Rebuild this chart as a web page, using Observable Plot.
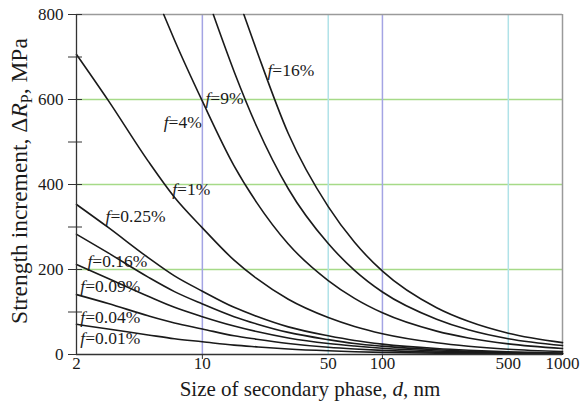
<!DOCTYPE html>
<html>
<head>
<meta charset="utf-8">
<script src="https://cdn.jsdelivr.net/npm/d3@7"></script>
<script src="https://cdn.jsdelivr.net/npm/@observablehq/plot@0.6"></script>
<style>
  html, body { margin: 0; padding: 0; background: #fff; }
  #chart svg { display: block; }
</style>
</head>
<body>
<div id="chart"></div>
<script>
// ---- data ----
const fractionLabels = ["0.01", "0.04", "0.09", "0.16", "0.25", "1", "4", "9", "16"];

const dGrid = [2, 3, 5, 7, 10, 15, 20, 30, 50, 70, 100, 200, 300, 500, 1000];
const f001 = [71, 60, 46, 37, 30, 22, 18, 13, 8.7, 6.6, 4.9, 2.8, 2, 1.3, 0.7];
const f004 = [141, 120, 91, 74, 60, 44, 36, 26, 17, 13, 9.8, 5.5, 3.9, 2.5, 1.4];
const f009 = [212, 179, 137, 111, 89, 67, 54, 39, 26, 20, 14.7, 8.3, 5.9, 3.8, 2.1];
const f016 = [283, 239, 182, 148, 119, 89, 72, 52, 35, 26, 19.6, 11, 7.8, 5, 2.8];
const f025 = [353, 299, 228, 185, 149, 111, 90, 65, 44, 33, 24.5, 14, 10, 6.3, 3.5];
const f1   = [706, 598, 455, 370, 298, 222, 179, 130, 87, 66, 49, 27.5, 19.5, 12.5, 7];

const dF4 = [6.1, 7, 10, 15, 20, 30, 50, 70, 100, 200, 300, 500, 1000];
const f4  = [800, 740, 596, 444, 358, 260, 174, 132, 98, 55, 39, 25, 14];
const dF9 = [11.5, 15, 20, 30, 50, 70, 100, 200, 300, 500, 1000];
const f9  = [800, 666, 537, 390, 261, 198, 147, 83, 58, 37, 21];
const dF16 = [17, 20, 30, 50, 70, 100, 200, 300, 500, 1000];
const f16  = [800, 716, 520, 348, 264, 196, 110, 78, 50, 28];

// label anchors (d, value)
const labelD   = [2.1, 2.1, 2.1, 2.3, 2.9, 6.8, 6.1, 10.4, 23];
const labelVal = [38, 87, 160, 219, 325, 388, 546, 602, 668];

const yTicks = [0, 100, 200, 300, 400, 500, 600, 700, 800];
const xTicks = [2, 10, 50, 100, 500, 1000];
const hGrid = [200, 400, 600];
const vGridMain = [10, 100];
const vGridMinor = [50, 500];

// ---- build tables ----
const seriesD = [dGrid, dGrid, dGrid, dGrid, dGrid, dGrid, dF4, dF9, dF16];
const seriesV = [f001, f004, f009, f016, f025, f1, f4, f9, f16];
const rows = [];
seriesV.forEach((vals, i) => {
  vals.forEach((v, j) => rows.push({f: fractionLabels[i], d: seriesD[i][j], v}));
});
const labels = fractionLabels.map((f, i) => ({f, d: labelD[i], v: labelVal[i], text: "f=" + f + "%"}));

const ink = "#1a1a1a";
const serif = "'Liberation Serif', 'Times New Roman', serif";
const chart = Plot.plot({
  width: 583,
  height: 408,
  marginLeft: 76,
  marginRight: 21,
  marginTop: 14,
  marginBottom: 54,
  style: {fontFamily: serif, fontSize: "17px", color: ink, background: "#fff"},
  x: {type: "log", domain: [2, 1000]},
  y: {domain: [0, 800]},
  marks: [
    Plot.ruleY(hGrid, {stroke: "#a6da88", strokeWidth: 1.5}),
    Plot.ruleX(vGridMinor, {stroke: "#b0e2e8", strokeWidth: 1.5}),
    Plot.ruleX(vGridMain, {stroke: "#a4a4e4", strokeWidth: 1.5}),
    Plot.ruleY([800], {stroke: "#9a9a9a", strokeWidth: 1.5}),
    Plot.ruleX([1000], {stroke: "#9a9a9a", strokeWidth: 1.5}),
    Plot.line(rows, {x: "d", y: "v", z: "f", stroke: ink, strokeWidth: 1.6, curve: "monotone-x"}),
    Plot.text(labels, {x: "d", y: "v", text: "text", textAnchor: "start", fontSize: 17.5, fill: ink}),
    Plot.ruleY([0], {stroke: "#333", strokeWidth: 1.3}),
    Plot.ruleX([2], {stroke: "#333", strokeWidth: 1.3}),
    Plot.axisY({ticks: yTicks, tickSize: 8, tickPadding: 5, label: null, stroke: "#333",
      tickFormat: d => (d % 200 === 0 ? String(d) : "")}),
    Plot.axisY({ticks: yTicks, tickSize: 6, dx: 6, label: null, stroke: "#333", tickFormat: () => ""}),
    Plot.axisX({ticks: vGridMain, tickSize: 5, label: null, stroke: "#333", tickFormat: () => ""}),
    Plot.text(xTicks, {x: d => d, text: d => String(d), frameAnchor: "bottom", dy: 14, fontSize: 17, fill: ink})
  ]
});

document.getElementById("chart").appendChild(chart);

const svg = d3.select(chart);

// italic "f" in curve labels
svg.selectAll("text").each(function() {
  const t = this.textContent;
  if (!/^f=/.test(t)) return;
  const sel = d3.select(this);
  sel.text(null);
  sel.append("tspan").attr("font-style", "italic").text("f");
  sel.append("tspan").text(t.slice(1));
});

// axis titles with italic / subscript parts
const ml = 76, mr = 21, mt = 14, mb = 54, W = 583, H = 408;
const xt = svg.append("text")
  .attr("x", (ml + W - mr) / 2 - 9)
  .attr("y", 396)
  .attr("text-anchor", "middle")
  .attr("font-size", 21)
  .attr("fill", ink)
  .attr("font-family", serif);
xt.append("tspan").text("Size of secondary phase, ");
xt.append("tspan").attr("font-style", "italic").text("d");
xt.append("tspan").text(", nm");

const yt = svg.append("text")
  .attr("transform", `translate(27,${(mt + H - mb) / 2 - 3}) rotate(-90)`)
  .attr("text-anchor", "middle")
  .attr("font-size", 23.5)
  .attr("fill", ink)
  .attr("font-family", serif);
yt.append("tspan").text("Strength increment, \u0394");
yt.append("tspan").attr("font-style", "italic").text("R");
yt.append("tspan").attr("font-size", 16).attr("dy", 5).text("P");
yt.append("tspan").attr("dy", -5).text(", MPa");
</script>
</body>
</html>
